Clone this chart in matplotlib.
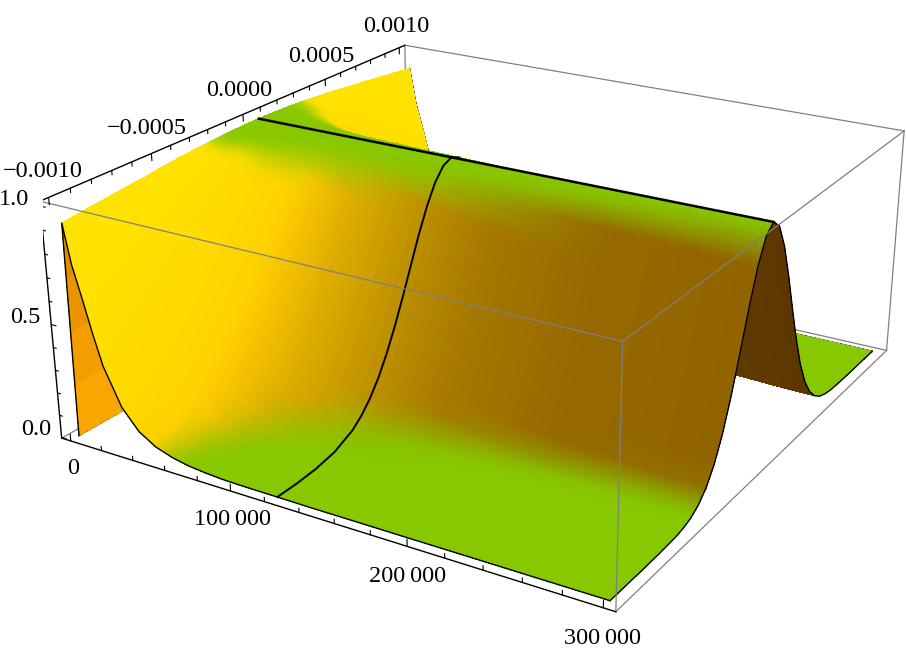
import numpy as np
import matplotlib
matplotlib.use('Agg')
import matplotlib.pyplot as plt

# values
x_rows = [0, 1000, 5000, 10000, 15000, 20000, 30000, 40000, 50000, 60000, 70000, 80000, 90000, 100000,
          123000, 140000, 160000, 180000, 200000, 220000, 240000, 260000, 280000, 300000]
# y positions going out from the ridge, towards the front and towards the back
y_near = [0.00003, -0.0000215, -0.000073, -0.0001245, -0.000176, -0.0002275, -0.000279, -0.0003305, -0.000382,
          -0.0004335, -0.000485, -0.0005365, -0.000588, -0.000691, -0.000794, -0.000897, -0.001]
y_far = [0.00003, 0.0000785, 0.000127, 0.0001755, 0.000224, 0.0002725, 0.000321, 0.0003695, 0.000418,
         0.0004665, 0.000515, 0.0005635, 0.000612, 0.000709, 0.000806, 0.000903, 0.001]
# height in each row, same on both sides of the ridge
z_rows = [
    [0.000, 0.000, 0.000, 0.000, 0.000, 0.000, 0.000, 0.000, 0.000, 0.000, 0.000, 0.000, 0.000, 0.000, 0.000, 0.000, 0.000],
    [1.000, 1.000, 0.999, 0.998, 0.996, 0.993, 0.991, 0.987, 0.983, 0.979, 0.974, 0.969, 0.963, 0.955, 0.945, 0.935, 0.925],
    [1.000, 0.999, 0.997, 0.994, 0.989, 0.983, 0.975, 0.967, 0.957, 0.945, 0.933, 0.919, 0.905, 0.873, 0.837, 0.799, 0.757],
    [1.000, 0.999, 0.995, 0.989, 0.981, 0.971, 0.958, 0.943, 0.927, 0.908, 0.888, 0.866, 0.843, 0.792, 0.737, 0.680, 0.621],
    [1.000, 0.998, 0.993, 0.983, 0.971, 0.955, 0.935, 0.913, 0.888, 0.861, 0.831, 0.799, 0.766, 0.696, 0.622, 0.549, 0.477],
    [1.000, 0.997, 0.990, 0.977, 0.959, 0.936, 0.910, 0.879, 0.845, 0.808, 0.769, 0.727, 0.685, 0.597, 0.510, 0.426, 0.349],
    [1.000, 0.996, 0.983, 0.963, 0.935, 0.901, 0.861, 0.815, 0.766, 0.714, 0.659, 0.604, 0.549, 0.442, 0.344, 0.259, 0.189],
    [1.000, 0.994, 0.978, 0.950, 0.913, 0.868, 0.815, 0.757, 0.695, 0.631, 0.567, 0.503, 0.441, 0.328, 0.233, 0.159, 0.103],
    [1.000, 0.993, 0.972, 0.938, 0.892, 0.836, 0.773, 0.705, 0.633, 0.561, 0.490, 0.421, 0.357, 0.247, 0.161, 0.099, 0.057],
    [1.000, 0.991, 0.966, 0.925, 0.871, 0.806, 0.733, 0.656, 0.576, 0.497, 0.422, 0.352, 0.289, 0.185, 0.110, 0.061, 0.032],
    [1.000, 0.990, 0.960, 0.912, 0.850, 0.775, 0.693, 0.607, 0.520, 0.437, 0.361, 0.291, 0.230, 0.135, 0.073, 0.037, 0.017],
    [1.000, 0.988, 0.954, 0.898, 0.827, 0.742, 0.651, 0.558, 0.467, 0.381, 0.304, 0.237, 0.180, 0.097, 0.047, 0.021, 0.009],
    [1.000, 0.987, 0.947, 0.885, 0.806, 0.713, 0.615, 0.516, 0.421, 0.335, 0.259, 0.195, 0.143, 0.071, 0.031, 0.013, 0.004],
    [1.000, 0.985, 0.941, 0.873, 0.785, 0.685, 0.580, 0.476, 0.379, 0.293, 0.220, 0.160, 0.113, 0.051, 0.021, 0.007, 0.002],
    [1.000, 0.982, 0.929, 0.846, 0.744, 0.629, 0.513, 0.404, 0.306, 0.223, 0.157, 0.106, 0.069, 0.027, 0.009, 0.002, 0.001],
    [1.000, 0.979, 0.917, 0.822, 0.706, 0.581, 0.457, 0.345, 0.249, 0.172, 0.114, 0.072, 0.044, 0.014, 0.004, 0.001, 0.000],
    [1.000, 0.975, 0.905, 0.799, 0.670, 0.535, 0.407, 0.294, 0.202, 0.132, 0.082, 0.049, 0.027, 0.007, 0.002, 0.000, 0.000],
    [1.000, 0.973, 0.895, 0.779, 0.641, 0.499, 0.368, 0.256, 0.169, 0.105, 0.062, 0.035, 0.018, 0.004, 0.001, 0.000, 0.000],
    [1.000, 0.970, 0.887, 0.763, 0.618, 0.471, 0.338, 0.229, 0.145, 0.087, 0.049, 0.026, 0.013, 0.003, 0.000, 0.000, 0.000],
    [1.000, 0.969, 0.880, 0.749, 0.599, 0.449, 0.315, 0.208, 0.129, 0.074, 0.041, 0.021, 0.010, 0.002, 0.000, 0.000, 0.000],
    [1.000, 0.967, 0.874, 0.738, 0.582, 0.430, 0.296, 0.191, 0.115, 0.065, 0.034, 0.017, 0.008, 0.001, 0.000, 0.000, 0.000],
    [1.000, 0.965, 0.869, 0.728, 0.569, 0.415, 0.281, 0.178, 0.105, 0.058, 0.030, 0.014, 0.006, 0.001, 0.000, 0.000, 0.000],
    [1.000, 0.964, 0.865, 0.722, 0.560, 0.404, 0.271, 0.169, 0.098, 0.053, 0.027, 0.013, 0.005, 0.001, 0.000, 0.000, 0.000],
    [1.000, 0.964, 0.863, 0.718, 0.555, 0.399, 0.266, 0.165, 0.095, 0.051, 0.025, 0.012, 0.005, 0.001, 0.000, 0.000, 0.000],
]
x_mesh_row = 123000

x_labels = ['0', '100\u2009000', '200\u2009000', '300\u2009000']
x_majors = [0, 100000, 200000, 300000]
x_minors = [20000, 40000, 60000, 80000, 120000, 140000, 160000, 180000, 220000, 240000, 260000, 280000]
y_labels = ['\u22120.0010', '\u22120.0005', '0.0000', '0.0005', '0.0010']
y_majors = [-0.001, -0.0005, 0, 0.0005, 0.001]
y_minors = [-0.0009, -0.0008, -0.0007, -0.0006, -0.0004, -0.0003, -0.0002, -0.0001,
            0.0001, 0.0002, 0.0003, 0.0004, 0.0006, 0.0007, 0.0008, 0.0009]
z_labels = ['0.0', '0.5', '1.0']
z_majors = [0, 0.5, 1]
z_minors = [0.1, 0.2, 0.3, 0.4, 0.6, 0.7, 0.8, 0.9]

# box and camera
x0, x1 = -6000, 306000
y0, y1 = -0.00104, 0.00104
z0, z1 = -0.003, 1.02
elev, azim, roll = 22.55, -58.621, 0.073
focal = 0.4306
aspect = np.array([1, 0.9995, 0.4023])

plt.rcParams['font.family'] = ['Liberation Serif', 'DejaVu Serif']

W, H = 906, 656
fig = plt.figure(figsize=(W / 100, H / 100), dpi=100)
ax = fig.add_subplot(projection='3d', computed_zorder=False)
ax.set_position([43.4 / W, -74.2 / H, 874.8 / W, 874.8 / H])
ax.view_init(elev=elev, azim=azim, roll=roll)
ax.set_proj_type('persp', focal_length=focal)
ax.set_box_aspect(aspect)
ax.set_xlim(x0, x1)
ax.set_ylim(y0, y1)
ax.set_zlim(z0, z1)
ax.set_axis_off()

# whole surface from the half table
half = np.array(z_rows)
xs = np.array(x_rows, float)
ys = np.concatenate([np.array(y_near[:0:-1]), np.array(y_far)])
Z = np.hstack([half[:, :0:-1], half])
X, Y = np.meshgrid(xs, ys, indexing='ij')

box = aspect * 1.8294640721620434 * 25 / 24 / np.linalg.norm(aspect)
kx = box[0] / (x1 - x0)
ky = box[1] / (y1 - y0)
kz = box[2] / (z1 - z0)

# colours come from the slope at each node, Mathematica lights the surface that way
dzdx = np.zeros(Z.shape)
dzdy = np.zeros(Z.shape)
dzdx[1:], dzdy[1:] = np.gradient(Z[1:], xs[1:], ys)
dzdx[0], dzdy[0] = dzdx[1], dzdy[1]
sx = dzdx * kz / kx
sy = dzdy * kz / ky

steep_x = [0, 50000, 80000, 120000, 160000, 220000, 300000]
steep_r = [255, 255, 225, 190, 165, 150, 145]
steep_g = [228, 208, 175, 145, 120, 105, 100]
under_x = [0, 1000, 20000, 60000, 300000]
under_r = [255, 225, 230, 120, 92]
under_g = [170, 135, 150, 80, 55]
flat = np.array([135, 200, 0]) / 255
boost_x = [0, 40000, 80000, 120000]
boost = [2.0, 1.8, 1.3, 1.0]

# near the top of the ridge the slope counts less, the green band is wider there
fade = np.clip((1 - Z) / 0.2, 0.5, 1)
g = np.hypot(sx, sy * fade) * np.interp(X, boost_x, boost)
t = np.clip((g - 0.25) / 0.85, 0, 1)
t = t * t * (3 - 2 * t)
top_r = (1 - t) * flat[0] + t * np.interp(X, steep_x, steep_r) / 255
top_g = (1 - t) * flat[1] + t * np.interp(X, steep_x, steep_g) / 255
top_b = (1 - t) * flat[2]
low_r = np.interp(X, under_x, under_r) / 255
low_g = np.interp(X, under_x, under_g) / 255

# which faces are seen from below
e, a = np.radians(elev), np.radians(azim)
eye = box / 2 + 10 * focal * np.array([np.cos(e) * np.cos(a), np.cos(e) * np.sin(a), np.sin(e)])
fx = (X[:-1, :-1] + X[1:, 1:]) / 2
fy = (Y[:-1, :-1] + Y[1:, 1:]) / 2
fz = (Z[:-1, :-1] + Z[1:, 1:]) / 2
fsx = (Z[1:, :-1] + Z[1:, 1:] - Z[:-1, :-1] - Z[:-1, 1:]) / 2 / np.diff(xs)[:, None] * kz / kx
fsy = (Z[:-1, 1:] + Z[1:, 1:] - Z[:-1, :-1] - Z[1:, :-1]) / 2 / np.diff(ys)[None, :] * kz / ky
under = (-fsx * (eye[0] - (fx - x0) * kx) - fsy * (eye[1] - (fy - y0) * ky) + (eye[2] - (fz - z0) * kz)) < 0

# shade across each face: split it into small flat pieces with blended colours
nx, ny = 4, 8

def split(a):
    u = np.linspace(0, a.shape[0] - 1, (a.shape[0] - 1) * nx + 1)
    v = np.linspace(0, a.shape[1] - 1, (a.shape[1] - 1) * ny + 1)
    b = np.array([np.interp(u, np.arange(a.shape[0]), col) for col in a.T]).T
    return np.array([np.interp(v, np.arange(a.shape[1]), rw) for rw in b])

def piece(a):
    b = split(a)
    return (b[:-1, :-1] + b[1:, 1:] + b[1:, :-1] + b[:-1, 1:]) / 4

fine_under = np.repeat(np.repeat(under, nx, axis=0), ny, axis=1)
colors = np.ones(fine_under.shape + (4,))
colors[..., 0] = np.where(fine_under, piece(low_r), piece(top_r))
colors[..., 1] = np.where(fine_under, piece(low_g), piece(top_g))
colors[..., 2] = np.where(fine_under, 0, piece(top_b))

grey = '#808080'

def box_line(p, q, color=grey, lw=0.9, zorder=5):
    ax.plot([p[0], q[0]], [p[1], q[1]], [p[2], q[2]], color=color, lw=lw, zorder=zorder)

# edges behind the surface
box_line((x0, y1, z0), (x0, y1, z1), zorder=1)
box_line((x0, y0, z0), (x0, y1, z0), zorder=1)
box_line((x0, y1, z0), (x1, y1, z0), zorder=1)
box_line((x0, y1, z1), (x1, y1, z1), zorder=1)
box_line((x1, y1, z0), (x1, y1, z1), zorder=1)
ax.plot(X[0, :8], Y[0, :8], Z[0, :8], color='black', lw=1, zorder=1)
ax.plot(X[:, -1], Y[:, -1], Z[:, -1], color='black', lw=1.2, zorder=1)

ax.plot_surface(split(X), split(Y), split(Z), facecolors=colors, rstride=1, cstride=1, shade=False,
                linewidth=0, antialiased=False, zorder=2)

# mesh lines and outline on top of the surface
ridge = len(y_near) - 1
row = x_rows.index(x_mesh_row)
ax.plot(X[:, 0], Y[:, 0], Z[:, 0], color='black', lw=1, zorder=3)
ax.plot(X[-1, :], Y[-1, :], Z[-1, :], color='black', lw=1, zorder=3)
ax.plot(X[1:, ridge], Y[1:, ridge], Z[1:, ridge], color='black', lw=1.8, zorder=3)
ax.plot(X[row, :ridge + 2], Y[row, :ridge + 2], Z[row, :ridge + 2], color='black', lw=1.4, zorder=3)

# front edges of the box, drawn over the surface
box_line((x0, y0, z1), (x1, y0, z1))
box_line((x1, y0, z0), (x1, y0, z1))
box_line((x1, y0, z1), (x1, y1, z1))
box_line((x1, y0, z0), (x1, y1, z0))

# axes
box_line((x0, y0, z0), (x1, y0, z0), color='black', lw=1)
box_line((x0, y0, z0), (x0, y0, z1), color='black', lw=1)
box_line((x0, y0, z1), (x0, y1, z1), color='black', lw=1)
for v in x_majors + x_minors:
    box_line((v, y0, z0), (v, y0, z0 + (0.03 if v in x_majors else 0.018)), color='black', lw=0.8)
for v in y_majors + y_minors:
    box_line((x0, v, z1), (x0, v, z1 - (0.03 if v in y_majors else 0.018)), color='black', lw=0.8)
for v in z_majors + z_minors:
    box_line((x0, y0, v), (x0 + (3000 if v in z_majors else 1800), y0, v), color='black', lw=0.8)

fs = 17.5
for v, s in zip(x_majors, x_labels):
    ax.text(v, y0, z0 - 0.125, s, ha='center', va='center', fontsize=fs, zorder=6)
for v, s in zip(y_majors, y_labels):
    ax.text(x0 - 2000, v, z1 + 0.105, s, ha='center', va='center', fontsize=fs, zorder=6)
for v, s in zip(z_majors, z_labels):
    ax.text(x0 - 17000, y0, v, s, ha='center', va='center', fontsize=fs, zorder=6)

fig.savefig('out.png', dpi=100)
